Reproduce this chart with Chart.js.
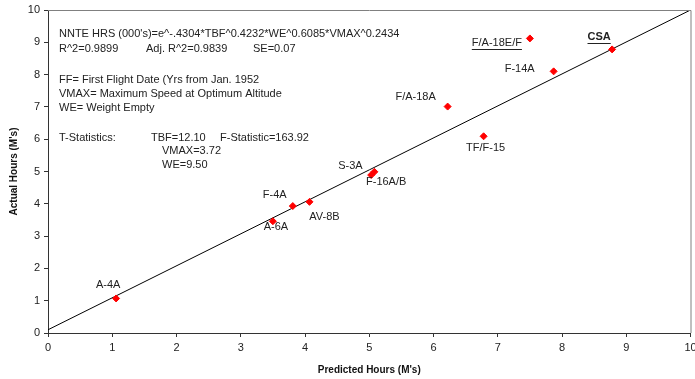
<!DOCTYPE html>
<html>
<head>
<meta charset="utf-8">
<script src="https://cdn.jsdelivr.net/npm/chart.js@4"></script>
<style>
html,body{margin:0;padding:0;background:#fff;}
#wrap{width:695px;height:379px;}
</style>
</head>
<body>
<div id="wrap"><canvas id="c" width="695" height="379"></canvas></div>
<script>
// ---- data ----
const aircraft = ["A-4A","A-6A","F-4A","AV-8B","S-3A","F-16A/B","F/A-18A","TF/F-15","F-14A","F/A-18E/F","CSA"];
const predicted = [1.06, 3.50, 3.81, 4.07, 5.08, 5.03, 6.22, 6.78, 7.87, 7.50, 8.78];
const actual    = [1.07, 3.46, 3.93, 4.06, 4.99, 4.89, 7.01, 6.09, 8.10, 9.12, 8.78];
const fitX = [0, 10];
const fitY = [0.1, 10];
const xTicks = [0,1,2,3,4,5,6,7,8,9,10];
const yTicks = [0,1,2,3,4,5,6,7,8,9,10];
const noteLines = [
  ["NNTE HRS (000's)=e^-.4304*TBF^0.4232*WE^0.6085*VMAX^0.2434"],
  ["R^2=0.9899", "Adj. R^2=0.9839", "SE=0.07"],
  ["FF= First Flight Date (Yrs from Jan. 1952"],
  ["VMAX= Maximum Speed at Optimum Altitude"],
  ["WE= Weight Empty"],
  ["T-Statistics:", "TBF=12.10", "F-Statistic=163.92"],
  ["VMAX=3.72"],
  ["WE=9.50"]
];

// ---- styling (label offsets in px relative to the point) ----
const labelStyle = {
  "A-4A":[-8,-13], "A-6A":[3,6], "F-4A":[-18,-11], "AV-8B":[15,15],
  "S-3A":[-24,-6], "F-16A/B":[15,7], "F/A-18A":[-32,-10], "TF/F-15":[2,12],
  "F-14A":[-34,-2], "F/A-18E/F":[-33,5], "CSA":[-13,-12]
};
const underlined = {"F/A-18E/F":true, "CSA":true};
const boldLabels = {"CSA":true};
// note layout: [dx from chart left, dy from chart top] per text piece
const notePos = [
  [[11,24]],
  [[11,39],[98,39],[205,39]],
  [[11,70]],
  [[11,84]],
  [[11,98]],
  [[11,128],[103,128],[172,128]],
  [[114,141]],
  [[114,155]]
];

const FONT = "'Liberation Sans', Arial, sans-serif";

const overlay = {
  id: 'overlay',
  afterDraw(chart) {
    const ctx = chart.ctx, a = chart.chartArea;
    const xs = chart.scales.x, ys = chart.scales.y;
    ctx.save();
    // top & right frame
    ctx.strokeStyle = '#808080'; ctx.lineWidth = 1;
    ctx.beginPath();
    ctx.moveTo(a.left, a.top + 0.5); ctx.lineTo(a.right + 0.5, a.top + 0.5); ctx.lineTo(a.right + 0.5, a.bottom);
    ctx.stroke();
    // point labels
    ctx.fillStyle = '#222';
    ctx.textAlign = 'center'; ctx.textBaseline = 'middle';
    aircraft.forEach((name, i) => {
      const px = xs.getPixelForValue(predicted[i]);
      const py = ys.getPixelForValue(actual[i]);
      const off = labelStyle[name] || [0, -10];
      ctx.font = (boldLabels[name] ? 'bold ' : '') + '11px ' + FONT;
      const tx = px + off[0], ty = py + off[1];
      ctx.fillText(name, tx, ty);
      if (underlined[name]) {
        const w = ctx.measureText(name).width;
        ctx.strokeStyle = '#222'; ctx.lineWidth = 1;
        ctx.beginPath();
        ctx.moveTo(tx - w / 2, Math.round(ty + 6) + 0.5);
        ctx.lineTo(tx + w / 2, Math.round(ty + 6) + 0.5);
        ctx.stroke();
      }
    });
    // notes
    ctx.font = '11px ' + FONT;
    ctx.textAlign = 'left';
    noteLines.forEach((line, li) => {
      line.forEach((txt, j) => {
        const p = notePos[li][j];
        ctx.fillText(txt, a.left + p[0], a.top + p[1]);
      });
    });
    ctx.restore();
  }
};

new Chart(document.getElementById('c'), {
  type: 'scatter',
  data: {
    datasets: [
      {
        type: 'line',
        data: fitX.map((x, i) => ({x, y: fitY[i]})),
        borderColor: '#000', borderWidth: 1, pointRadius: 0, fill: false, order: 2
      },
      {
        data: predicted.map((x, i) => ({x, y: actual[i]})),
        pointStyle: 'rectRot', pointRadius: 3.5, pointHoverRadius: 3.5,
        backgroundColor: '#ff0000', borderColor: '#ff0000', borderWidth: 1, order: 1
      }
    ]
  },
  options: {
    responsive: false, animation: false,
    devicePixelRatio: 1,
    layout: { padding: { top: 10, right: 3, left: 0, bottom: 0 } },
    plugins: { legend: { display: false }, tooltip: { enabled: false } },
    scales: {
      x: {
        type: 'linear', min: 0, max: 10,
        afterBuildTicks: s => { s.ticks = xTicks.map(v => ({value: v})); },
        afterFit: s => { s.height = 46; s.paddingLeft = 0; s.paddingRight = 0; },
        border: { color: '#333', width: 1 },
        grid: { drawOnChartArea: false, drawTicks: true, tickLength: 4, color: '#333' },
        ticks: { color: '#222', font: { family: FONT, size: 11 }, padding: 4, maxRotation: 0 },
        title: { display: true, text: "Predicted Hours (M's)", color: '#111',
                 font: { family: FONT, size: 10, weight: 'bold' }, padding: { top: 2, bottom: 3 } }
      },
      y: {
        type: 'linear', min: 0, max: 10,
        afterBuildTicks: s => { s.ticks = yTicks.map(v => ({value: v})); },
        afterFit: s => { s.width = 48; s.paddingTop = 0; s.paddingBottom = 0; },
        border: { color: '#333', width: 1 },
        grid: { drawOnChartArea: false, drawTicks: true, tickLength: 4, color: '#333' },
        ticks: { color: '#222', font: { family: FONT, size: 11 }, padding: 4 },
        title: { display: true, text: "Actual Hours (M's)", color: '#111',
                 font: { family: FONT, size: 10, weight: 'bold' }, padding: { top: 8, bottom: 0 } }
      }
    }
  },
  plugins: [overlay]
});
</script>
</body>
</html>
